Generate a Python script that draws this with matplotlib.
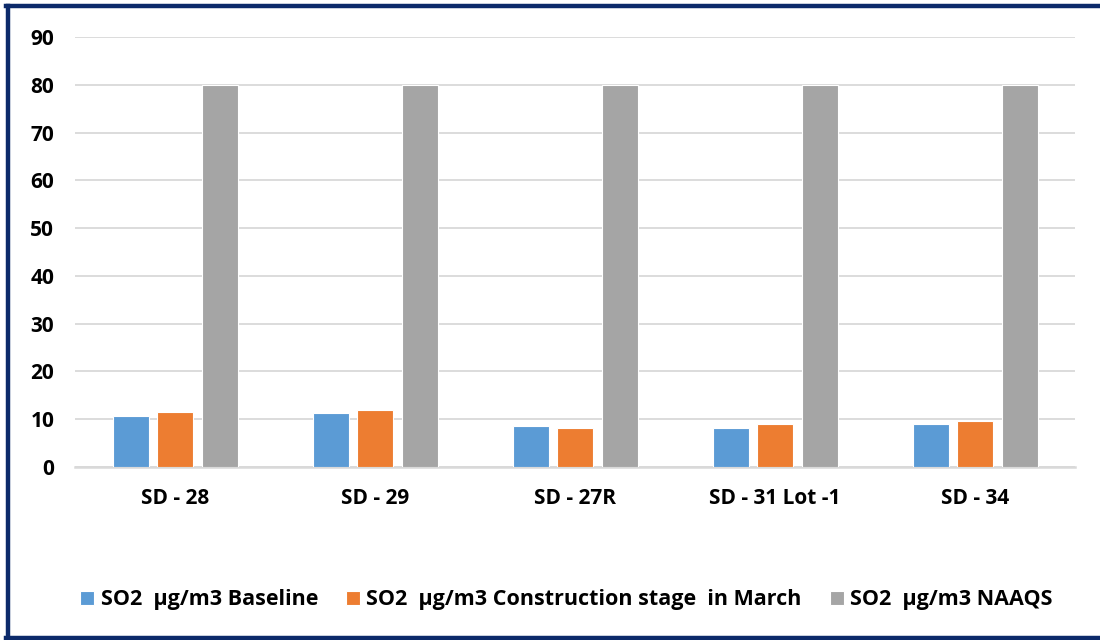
import matplotlib
matplotlib.use("Agg")
import matplotlib.pyplot as plt
import numpy as np
from matplotlib.lines import Line2D

categories = ["SD - 28", "SD - 29", "SD - 27R", "SD - 31 Lot -1", "SD - 34"]
baseline = [10.6, 11.3, 8.6, 8.2, 9.0]
construction = [11.6, 12.0, 8.1, 8.9, 9.7]
naaqs = [80, 80, 80, 80, 80]
series_labels = ["SO2  μg/m3 Baseline", "SO2  μg/m3 Construction stage  in March", "SO2  μg/m3 NAAQS"]
colors = ["#5B9BD5", "#ED7D31", "#A5A5A5"]
yticks = [0, 10, 20, 30, 40, 50, 60, 70, 80, 90]

plt.rcParams['font.family'] = ['Open Sans', 'DejaVu Sans']
plt.rcParams['font.weight'] = 'bold'

fig = plt.figure(figsize=(11, 6.4), dpi=100)
ax = fig.add_axes([75/1100, 1-467/640, 1000/1100, 430/640])

x = np.arange(len(categories))
w = 0.18
off = 0.2225
for i, (vals, c, lab) in enumerate(zip([baseline, construction, naaqs], colors, series_labels)):
    ax.bar(x + (i-1)*off, vals, width=w, color=c, edgecolor='white', linewidth=0.8, label=lab, zorder=3)

ax.set_xlim(-0.5, len(categories)-0.5)
ax.set_ylim(0, 90)
ax.set_yticks(yticks)
ax.set_yticklabels([str(t) for t in yticks], fontsize=15, fontweight='bold')
ax.set_xticks(x)
ax.set_xticklabels(categories, fontsize=15, fontweight='bold')
ax.tick_params(axis='both', length=0)
ax.tick_params(axis='y', pad=15)
ax.tick_params(axis='x', pad=15)
ax.yaxis.grid(True, color='#D9D9D9', linewidth=1.3, zorder=0)
ax.set_axisbelow(True)
for s in ['top', 'right', 'left']:
    ax.spines[s].set_visible(False)
ax.spines['bottom'].set_color('#D9D9D9')
ax.spines['bottom'].set_linewidth(1.8)

leg = fig.legend(loc='center', bbox_to_anchor=(0.515, 1-600/640), ncol=3, frameon=False,
                 prop={'size': 15.5, 'weight': 'bold'}, handlelength=0.65, handleheight=0.65,
                 handletextpad=0.3, columnspacing=1.3)

navy = '#0C2A6A'
fig.add_artist(Line2D([6/1100, 1], [1-6/640, 1-6/640], color=navy, linewidth=3.2, transform=fig.transFigure))
fig.add_artist(Line2D([8/1100, 8/1100], [1-6/640, 1-638/640], color=navy, linewidth=3.2, transform=fig.transFigure))
fig.add_artist(Line2D([6/1100, 1], [1-638/640, 1-638/640], color=navy, linewidth=3.2, transform=fig.transFigure))

fig.savefig("out.png", dpi=100)
